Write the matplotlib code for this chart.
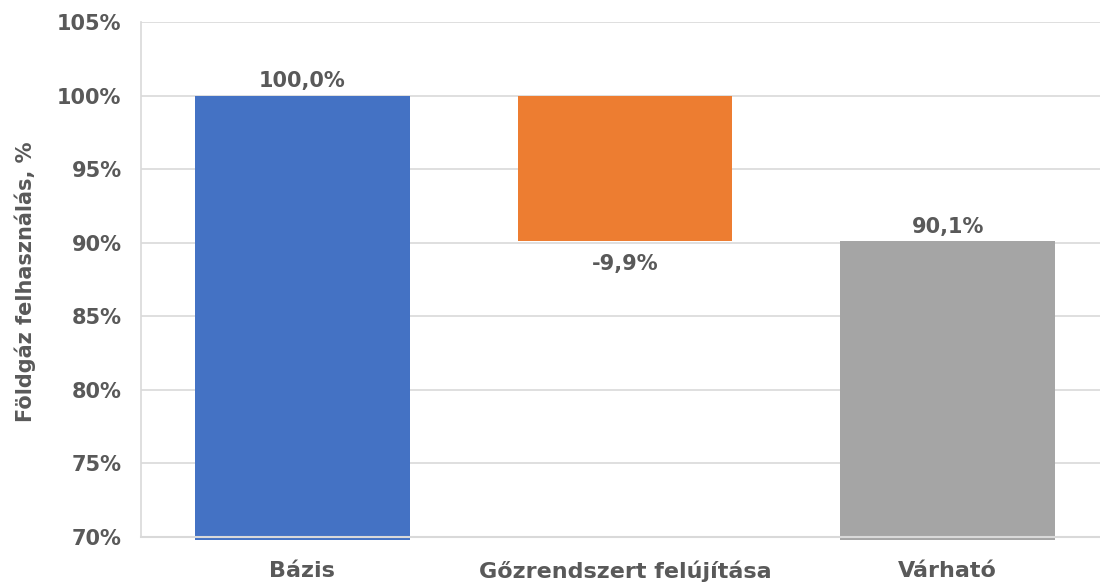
import matplotlib
matplotlib.use("Agg")
import matplotlib.pyplot as plt

categories = ["Bázis", "Gőzrendszert felújítása", "Várható"]
bar_tops = [100.0, 100.0, 90.1]
bar_bottoms = [69.8, 90.1, 69.8]
labels = ["100,0%", "-9,9%", "90,1%"]
colors = ["#4472C4", "#ED7D31", "#A5A5A5"]
yticks = [70, 75, 80, 85, 90, 95, 100, 105]

txt = "#595959"
plt.rcParams['font.family'] = ['DejaVu Sans']

fig = plt.figure(figsize=(11, 5.86), dpi=100)
ax = fig.add_axes([141/1100, 1 - 537/586, (1109 - 141)/1100, (537 - 22)/586])

x = list(range(len(categories)))
heights = [t - b for t, b in zip(bar_tops, bar_bottoms)]
bars = ax.bar(x, heights, bottom=bar_bottoms, width=0.665, color=colors, zorder=3, clip_on=False)

ax.set_xlim(-0.5, 2.5)
ax.set_ylim(70, 105)
ax.set_yticks(yticks)
ax.set_yticklabels([f"{v}%" for v in yticks])
ax.set_xticks(x)
ax.set_xticklabels(categories)
ax.tick_params(axis='y', length=0, colors=txt, labelsize=15, pad=14)
ax.tick_params(axis='x', length=0, colors=txt, labelsize=16, pad=17)
for lab in ax.get_xticklabels() + ax.get_yticklabels():
    lab.set_fontweight('bold')

ax.grid(axis='y', color="#D9D9D9", linewidth=1.2, zorder=0)
for s in ["top", "right", "bottom"]:
    ax.spines[s].set_visible(False)
ax.spines["left"].set_color("#D9D9D9")
ax.spines["left"].set_linewidth(1.2)
ax.axhline(70, color="#D9D9D9", linewidth=1.5, zorder=4, clip_on=False)

# data labels
ax.text(0, 100.0 + 0.3, labels[0], ha='center', va='bottom', fontsize=15, fontweight='bold', color=txt)
ax.text(1, 90.1 - 0.9, labels[1], ha='center', va='top', fontsize=15, fontweight='bold', color=txt)
ax.text(2, 90.1 + 0.3, labels[2], ha='center', va='bottom', fontsize=15, fontweight='bold', color=txt)

fig.text(25/1100, 1 - 282/586, "Földgáz felhasználás, %", rotation=90, ha='center', va='center',
         fontsize=15, fontweight='bold', color=txt)

fig.savefig("out.png", dpi=100)
